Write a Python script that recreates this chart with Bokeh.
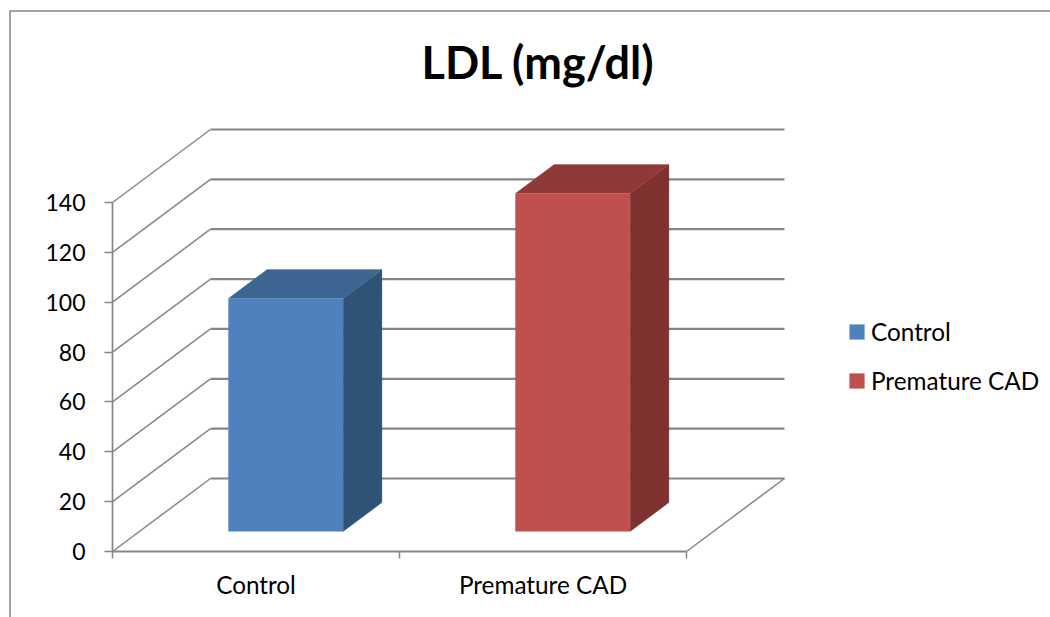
from bokeh.plotting import figure
from bokeh.models import (Range1d, LinearAxis, FixedTicker, Legend, LegendItem, Label)
from bokeh.embed import file_html
from bokeh.resources import INLINE

# Data
categories = ["Control", "Premature CAD"]
values = [93.5, 135.6]
y_ticks = [0, 20, 40, 60, 80, 100, 120, 140]
front_colors = ["#4F81BD", "#C0504D"]
side_colors = ["#2F5377", "#7D3230"]
top_colors = ["#3D6591", "#8F3A38"]
title_text = "LDL (mg/dl)"

# Scale / style
W, H = 1050, 617
PX_X = 287.0       # px per category
PX_Y = 2.493       # px per value unit
X0, Y0 = 112, 551  # position of the origin
DX = 98 / PX_X     # depth shift in data units
DY = 73 / PX_Y
FONT = "Lato"
GRID = "#868686"
BAR_W = 0.40
BAR_OFF = 0.010
D0, D1 = 0.274, 0.67

p = figure(width=W, height=H, output_backend="svg", toolbar_location=None,
           x_range=Range1d(-X0 / PX_X, (W - X0) / PX_X),
           y_range=Range1d((Y0 - H) / PX_Y, Y0 / PX_Y),
           x_axis_type=None, y_axis_type=None,
           min_border_left=0, min_border_right=0, min_border_top=0, min_border_bottom=0)
p.outline_line_color = None
p.grid.visible = False
p.background_fill_color = "white"

p.add_layout(Label(x=(421 - X0) / PX_X, y=(Y0 - 61) / PX_Y, text=title_text,
                   text_font=FONT, text_font_size="45px", text_font_style="bold",
                   text_color="black", text_baseline="alphabetic"))

# chart area border, in the figure's own scale
p.line([(9.5 - X0) / PX_X, (9.5 - X0) / PX_X, (W + 5 - X0) / PX_X],
       [(Y0 - H - 5) / PX_Y, (Y0 - 10.5) / PX_Y, (Y0 - 10.5) / PX_Y],
       line_color=GRID, line_width=1.5)

# walls and floor
n_cat = len(categories)
for v in y_ticks:
    p.line([0, DX], [v, v + DY], line_color=GRID, line_width=1.5)
    p.line([DX, n_cat + DX], [v + DY, v + DY], line_color=GRID, line_width=2.2)
p.line([n_cat, n_cat + DX], [0, DY], line_color=GRID, line_width=1.5)

# bars
fronts = []
for i, v in enumerate(values):
    l = i + 0.5 + BAR_OFF - BAR_W / 2
    r = l + BAR_W
    def px(x, d): return x + d * DX
    def py(y, d): return y + d * DY
    p.patch([px(r, D0), px(r, D1), px(r, D1), px(r, D0)],
            [py(0, D0), py(0, D1), py(v, D1), py(v, D0)],
            fill_color=side_colors[i], line_color=side_colors[i], line_width=0.3)
    p.patch([px(l, D0), px(r, D0), px(r, D1), px(l, D1)],
            [py(v, D0), py(v, D0), py(v, D1), py(v, D1)],
            fill_color=top_colors[i], line_color=top_colors[i], line_width=0.3)
    fronts.append(p.quad(left=[px(l, D0)], right=[px(r, D0)], bottom=[py(0, D0)], top=[py(v, D0)],
                         fill_color=front_colors[i], line_color=None))

# axes
yaxis = LinearAxis(fixed_location=0, ticker=FixedTicker(ticks=y_ticks), bounds=(0, max(y_ticks)))
yaxis.axis_line_color = GRID
yaxis.axis_line_width = 1.7
yaxis.major_tick_line_color = GRID
yaxis.major_tick_line_width = 1.5
yaxis.major_tick_in = 0
yaxis.major_tick_out = 8
yaxis.minor_tick_line_color = None
yaxis.major_label_standoff = 19
yaxis.major_label_text_font = FONT
yaxis.major_label_text_font_size = "23px"
yaxis.major_label_text_color = "black"
p.add_layout(yaxis, "left")

xaxis = LinearAxis(fixed_location=0,
                   ticker=FixedTicker(ticks=[i + 0.5 for i in range(n_cat)],
                                      minor_ticks=list(range(n_cat + 1))),
                   bounds=(0, n_cat))
xaxis.major_label_overrides = {i + 0.5: c for i, c in enumerate(categories)}
xaxis.axis_line_color = GRID
xaxis.axis_line_width = 2
xaxis.major_tick_line_color = None
xaxis.major_tick_in = 0
xaxis.major_tick_out = 8
xaxis.minor_tick_line_color = GRID
xaxis.minor_tick_line_width = 1.5
xaxis.minor_tick_in = 0
xaxis.minor_tick_out = 7
xaxis.major_label_standoff = 10
xaxis.major_label_text_font = FONT
xaxis.major_label_text_font_size = "24.3px"
xaxis.major_label_text_color = "black"
p.add_layout(xaxis, "below")

legend = Legend(items=[LegendItem(label=c, renderers=[f]) for c, f in zip(categories, fronts)],
                location=(847, 222), padding=0, margin=0, spacing=20,
                glyph_width=19, glyph_height=19, label_standoff=5,
                label_text_font=FONT, label_text_font_size="24.3px", label_text_color="black",
                background_fill_alpha=0, border_line_color=None)
p.add_layout(legend, "center")

open("out.html", "w").write(file_html(p, INLINE))
